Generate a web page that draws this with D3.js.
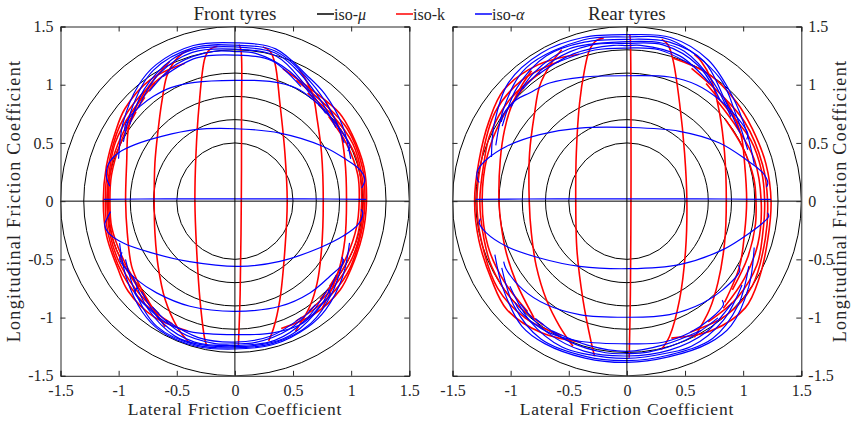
<!DOCTYPE html>
<html>
<head>
<meta charset="utf-8">
<script src="https://cdn.jsdelivr.net/npm/d3@7"></script>
<style>
  body { margin: 0; background: #fff; }
  svg text { font-family: "Liberation Serif", "Times New Roman", serif; fill: #262626; }
</style>
</head>
<body>
<svg id="chart" width="852" height="423"></svg>
<script>
// ---- axis values ----
const tickValues = [-1.5, -1, -0.5, 0, 0.5, 1, 1.5];
const tickLabels = ["-1.5", "-1", "-0.5", "0", "0.5", "1", "1.5"];
const isoMuRadii = [0.5, 0.7, 0.9, 1.1, 1.3, 1.5];
const panelTitles = ["Front tyres", "Rear tyres"];
const legendLabels = ["iso-", "iso-k", "iso-"];

// ---- front tyres: iso-alpha curves as [lateral, longitudinal] ----
const frontAlphaXY = [
  [[-1.13,0.015],[-0.6,0.02],[0,0.02],[0.6,0.02],[1.13,0.015]],
  [[-1.075,0.127],[-1.103,0.20],[-1.103,0.27],[-1.075,0.342],[-1.003,0.414],[-0.86,0.485],[-0.63,0.556],[-0.344,0.614],[0,0.622],[0.387,0.585],[0.76,0.47],[0.96,0.356],[1.075,0.27],[1.118,0.185],[1.09,0.113]],
  [[-0.95,0.60],[-0.94,0.66],[-0.89,0.74],[-0.817,0.814],[-0.70,0.90],[-0.55,0.975],[-0.344,1.02],[0,1.037],[0.30,1.028],[0.53,0.97],[0.673,0.871],[0.817,0.728],[0.93,0.58],[0.99,0.47],[0.97,0.43]],
  [[-1.07,-0.09],[-1.10,-0.15],[-1.12,-0.20],[-1.09,-0.27],[-0.96,-0.36],[-0.73,-0.44],[-0.39,-0.52],[0.04,-0.56],[0.387,-0.517],[0.731,-0.40],[0.931,-0.30],[1.06,-0.20],[1.10,-0.10],[1.085,-0.07]],
  [[-0.97,-0.44],[-0.99,-0.50],[-0.93,-0.59],[-0.845,-0.674],[-0.673,-0.788],[-0.387,-0.903],[0,-0.946],[0.387,-0.903],[0.645,-0.788],[0.817,-0.645],[0.931,-0.53],[0.92,-0.48]],
  [[-0.84,-0.74],[-0.86,-0.79],[-0.731,-0.931],[-0.587,-1.046],[-0.387,-1.12],[0,-1.146],[0.33,-1.131],[0.587,-1.046],[0.731,-0.903],[0.82,-0.80],[0.80,-0.76]]
];
// front iso-alpha curves in the saturated band: [force direction (deg), friction magnitude]
const frontAlphaPolar = [
  [[20,1.06],[35,1.13],[50,1.202],[60,1.244],[75,1.354],[90,1.36],[105,1.384],[120,1.354],[130,1.294],[145,1.174],[160,1.065]],
  [[28,1.065],[43,1.131],[58,1.216],[75,1.335],[90,1.34],[105,1.365],[122,1.325],[137,1.20],[152,1.086]],
  [[36,1.074],[51,1.146],[66,1.257],[75,1.32],[90,1.325],[105,1.35],[114,1.332],[129,1.238],[144,1.118]],
  [[44,1.086],[59,1.168],[74,1.295],[90,1.305],[106,1.329],[121,1.272],[136,1.155]],
  [[52,1.109],[67,1.21],[82,1.282],[90,1.285],[98,1.299],[113,1.28],[128,1.196]],
  [[60,1.135],[75,1.246],[90,1.255],[105,1.274],[120,1.235]],
  [[200,1.056],[215,1.141],[230,1.24],[240,1.285],[255,1.29],[270,1.27],[285,1.275],[300,1.25],[310,1.215],[325,1.131],[340,1.049]],
  [[208,1.066],[223,1.164],[238,1.268],[255,1.28],[270,1.26],[285,1.265],[302,1.235],[317,1.147],[332,1.058]],
  [[216,1.088],[231,1.189],[246,1.269],[255,1.269],[270,1.25],[285,1.255],[294,1.242],[309,1.165],[324,1.078]],
  [[224,1.118],[239,1.216],[254,1.259],[270,1.24],[286,1.244],[301,1.186],[316,1.101]],
  [[232,1.152],[247,1.219],[262,1.235],[270,1.225],[278,1.227],[293,1.195],[308,1.127]],
  [[240,1.182],[255,1.213],[270,1.21],[285,1.199],[300,1.15]]
];
// front iso-k curves, [lateral, longitudinal]
const frontKXY = [
  [[0.03,-1.245],[0.045,-0.8],[0.055,0],[0.057,0.8],[0.052,1.3],[0.035,1.345]],
  [[-0.24,-1.245],[-0.258,-1.19],[-0.30,-0.85],[-0.33,-0.4],[-0.344,0],[-0.335,0.4],[-0.31,0.8],[-0.258,1.229],[-0.22,1.30],[-0.15,1.33]],
  [[-0.38,-1.22],[-0.415,-1.19],[-0.50,-1.075],[-0.60,-0.845],[-0.66,-0.56],[-0.688,-0.27],[-0.694,0],[-0.688,0.328],[-0.66,0.614],[-0.63,0.843],[-0.587,1.071],[-0.53,1.186],[-0.45,1.27],[-0.38,1.30]],
  [[-0.60,-1.08],[-0.70,-0.93],[-0.817,-0.73],[-0.888,-0.56],[-0.926,-0.27],[-0.94,0],[-0.931,0.328],[-0.917,0.614],[-0.874,0.757],[-0.78,0.93],[-0.66,1.09],[-0.56,1.20]],
  [[0.29,-1.20],[0.33,-1.10],[0.387,-0.845],[0.43,-0.416],[0.45,0],[0.43,0.414],[0.387,0.843],[0.344,1.186],[0.30,1.29],[0.24,1.325]],
  [[0.52,-1.12],[0.645,-0.903],[0.708,-0.70],[0.745,-0.416],[0.76,0],[0.745,0.414],[0.708,0.70],[0.673,0.90],[0.60,1.06],[0.55,1.13]],
  [[0.75,-0.92],[0.84,-0.74],[0.903,-0.56],[0.946,-0.33],[0.96,0],[0.946,0.356],[0.903,0.614],[0.83,0.76],[0.78,0.86]]
];
// front iso-k curves in the saturated band: [direction (deg), magnitude]
const frontKPolar = [
  [[250,1.187],[235,1.214],[220,1.2],[210,1.162],[195,1.143],[180,1.132],[165,1.145],[150,1.187],[140,1.235],[125,1.272],[110,1.26]],
  [[243,1.184],[228,1.174],[213,1.152],[195,1.126],[180,1.115],[165,1.128],[147,1.182],[132,1.218],[117,1.251]],
  [[236,1.167],[221,1.14],[206,1.123],[195,1.111],[180,1.10],[165,1.113],[154,1.145],[139,1.173],[124,1.224]],
  [[229,1.138],[214,1.103],[199,1.101],[180,1.087],[161,1.109],[146,1.133],[131,1.181]],
  [[222,1.112],[207,1.082],[192,1.083],[180,1.075],[168,1.085],[153,1.103],[138,1.145]],
  [[-70,1.164],[-55,1.186],[-40,1.183],[-30,1.155],[-15,1.135],[0,1.132],[15,1.148],[30,1.16],[40,1.175],[55,1.162],[70,1.21]],
  [[-63,1.156],[-48,1.154],[-33,1.149],[-15,1.121],[0,1.118],[15,1.134],[33,1.149],[48,1.135],[63,1.164]],
  [[-56,1.139],[-41,1.124],[-26,1.121],[-13,1.11],[0,1.104],[13,1.115],[26,1.128],[41,1.116],[56,1.118]],
  [[-49,1.116],[-34,1.098],[-19,1.098],[0,1.09],[19,1.108],[34,1.096],[49,1.097]],
  [[-42,1.095],[-27,1.073],[-12,1.07],[0,1.069],[12,1.081],[27,1.079],[42,1.086]]
];

// ---- rear tyres ----
const rearAlphaXY = [
  [[-1.30,0.015],[-0.6,0.02],[0,0.02],[0.6,0.02],[1.24,0.015]],
  [[-1.27,0.16],[-1.29,0.20],[-1.281,0.27],[-1.209,0.356],[-1.037,0.47],[-0.75,0.571],[-0.407,0.628],[0.02,0.633],[0.453,0.60],[0.797,0.50],[1.027,0.356],[1.17,0.242],[1.212,0.156],[1.20,0.12]],
  [[-1.08,0.68],[-1.06,0.75],[-0.951,0.871],[-0.837,0.929],[-0.665,1.015],[-0.378,1.066],[0.02,1.077],[0.367,1.066],[0.597,1.0],[0.797,0.871],[0.94,0.729],[1.04,0.58],[1.03,0.53]],
  [[-1.26,-0.15],[-1.27,-0.187],[-1.209,-0.273],[-1.037,-0.388],[-0.75,-0.488],[-0.407,-0.56],[0.02,-0.58],[0.453,-0.545],[0.826,-0.416],[1.055,-0.273],[1.184,-0.173],[1.22,-0.13],[1.21,-0.10]],
  [[-1.06,-0.52],[-1.04,-0.58],[-0.894,-0.76],[-0.693,-0.888],[-0.407,-0.974],[0.02,-0.997],[0.367,-0.974],[0.654,-0.874],[0.826,-0.76],[0.97,-0.60],[0.96,-0.55]],
  [[-0.96,-0.87],[-0.93,-0.93],[-0.808,-1.046],[-0.665,-1.131],[-0.407,-1.203],[0.02,-1.225],[0.31,-1.212],[0.539,-1.131],[0.711,-1.017],[0.83,-0.89],[0.82,-0.85]]
];
const rearAlphaPolar = [
  [[16,1.14],[30,1.189],[45,1.28],[60,1.40],[75,1.455],[90,1.43],[105,1.455],[120,1.47],[135,1.44],[150,1.318],[162,1.225]],
  [[23,1.129],[38,1.194],[53,1.326],[75,1.435],[90,1.41],[105,1.435],[127,1.436],[142,1.334],[157,1.225]],
  [[31,1.135],[46,1.212],[61,1.371],[75,1.414],[90,1.39],[105,1.414],[119,1.428],[134,1.358],[149,1.251]],
  [[39,1.151],[54,1.263],[69,1.378],[78,1.391],[90,1.37],[111,1.40],[126,1.362],[141,1.283]],
  [[47,1.179],[62,1.315],[77,1.377],[90,1.355],[103,1.376],[118,1.364],[133,1.315]],
  [[55,1.238],[70,1.328],[85,1.343],[90,1.335],[95,1.343],[110,1.346],[125,1.329]],
  [[63,1.292],[78,1.329],[90,1.315],[102,1.327],[117,1.335]],
  [[202,1.225],[215,1.302],[230,1.404],[240,1.413],[255,1.395],[270,1.385],[285,1.385],[300,1.408],[310,1.395],[325,1.28],[340,1.165]],
  [[208,1.219],[223,1.325],[238,1.396],[255,1.38],[270,1.37],[285,1.37],[302,1.391],[317,1.309],[332,1.188]],
  [[216,1.244],[231,1.325],[246,1.372],[255,1.36],[270,1.35],[285,1.35],[294,1.365],[309,1.317],[324,1.224]],
  [[224,1.272],[239,1.32],[254,1.34],[270,1.33],[286,1.331],[301,1.316],[316,1.258]],
  [[232,1.279],[247,1.304],[262,1.315],[270,1.31],[278,1.31],[293,1.296],[308,1.272]],
  [[240,1.286],[255,1.283],[270,1.29],[285,1.274],[300,1.281]]
];
const rearKXY = [
  [[0.02,-1.345],[0.03,-0.8],[0.035,0],[0.035,0.8],[0.03,1.38],[0.025,1.43]],
  [[-0.278,-1.332],[-0.306,-1.217],[-0.378,-0.845],[-0.43,-0.416],[-0.44,0],[-0.435,0.414],[-0.407,0.843],[-0.364,1.129],[-0.321,1.30],[-0.26,1.38],[-0.2,1.40]],
  [[-0.464,-1.246],[-0.579,-1.075],[-0.693,-0.845],[-0.779,-0.56],[-0.822,-0.273],[-0.84,0],[-0.837,0.414],[-0.794,0.757],[-0.751,0.987],[-0.66,1.17],[-0.56,1.30]],
  [[-0.80,-1.0],[-0.951,-0.70],[-1.037,-0.445],[-1.08,-0.216],[-1.10,0],[-1.089,0.356],[-1.052,0.614],[-0.994,0.814],[-0.90,1.0],[-0.82,1.12]],
  [[0.296,-1.275],[0.367,-1.16],[0.453,-0.845],[0.505,-0.416],[0.516,0],[0.496,0.414],[0.453,0.843],[0.396,1.215],[0.353,1.343],[0.30,1.39]],
  [[0.58,-1.17],[0.711,-0.931],[0.783,-0.70],[0.84,-0.359],[0.855,0],[0.84,0.414],[0.797,0.757],[0.726,1.043],[0.64,1.2],[0.58,1.26]],
  [[0.84,-0.87],[0.969,-0.56],[1.012,-0.273],[1.03,0],[1.012,0.328],[0.984,0.557],[0.90,0.78],[0.84,0.88]]
];
const rearKPolar = [
  [[252,1.274],[237,1.348],[222,1.39],[210,1.345],[195,1.317],[180,1.31],[165,1.318],[150,1.37],[138,1.426],[123,1.398],[108,1.327]],
  [[244,1.284],[229,1.331],[214,1.34],[195,1.297],[180,1.29],[165,1.298],[146,1.367],[131,1.376],[116,1.334]],
  [[236,1.283],[221,1.301],[206,1.292],[195,1.272],[180,1.265],[165,1.273],[154,1.309],[139,1.333],[124,1.33]],
  [[228,1.277],[213,1.261],[198,1.256],[180,1.245],[162,1.262],[147,1.287],[132,1.319]],
  [[-72,1.237],[-57,1.328],[-42,1.37],[-30,1.315],[-15,1.255],[0,1.24],[15,1.238],[30,1.245],[42,1.27],[57,1.299],[72,1.291]],
  [[-64,1.25],[-49,1.301],[-34,1.301],[-15,1.233],[0,1.21],[15,1.208],[34,1.22],[49,1.222],[64,1.268]],
  [[-56,1.25],[-41,1.26],[-26,1.245],[-13,1.2],[0,1.185],[13,1.187],[26,1.188],[41,1.169],[56,1.218]],
  [[-48,1.239],[-33,1.208],[-18,1.185],[0,1.155],[18,1.153],[33,1.138],[48,1.16]],
  [[-40,1.184],[-25,1.146],[-10,1.123],[0,1.11],[10,1.109],[25,1.097],[40,1.10]]
];

// ---- drawing ----
const svg = d3.select("#chart");
const AXIS = "#262626";
const RED = "#ff0000", BLUE = "#0000ff";
const SERIF = '"Liberation Serif", "Times New Roman", serif';

// direction (deg) + magnitude -> [lateral, longitudinal]
const fromPolar = ([deg, mu]) => [mu * Math.cos(deg * Math.PI / 180), mu * Math.sin(deg * Math.PI / 180)];

const panels = [
  { key: "front", title: panelTitles[0], range: [60.5, 409.3], side: "left",
    alphaXY: frontAlphaXY, alphaPolar: frontAlphaPolar, kXY: frontKXY, kPolar: frontKPolar },
  { key: "rear", title: panelTitles[1], range: [452.5, 801.3], side: "right",
    alphaXY: rearAlphaXY, alphaPolar: rearAlphaPolar, kXY: rearKXY, kPolar: rearKPolar }
];
const yRange = [375.8, 26.5];

panels.forEach(p => {
  const x = d3.scaleLinear().domain([-1.5, 1.5]).range(p.range);
  const y = d3.scaleLinear().domain([-1.5, 1.5]).range(yRange);
  const g = svg.append("g");
  const clipId = "clip-" + p.key;
  g.append("clipPath").attr("id", clipId).append("rect")
    .attr("x", p.range[0]).attr("y", yRange[1])
    .attr("width", p.range[1] - p.range[0]).attr("height", yRange[0] - yRange[1]);
  const plot = g.append("g").attr("clip-path", `url(#${clipId})`);

  // iso-mu circles
  plot.selectAll("ellipse").data(isoMuRadii).join("ellipse")
    .attr("cx", x(0)).attr("cy", y(0))
    .attr("rx", d => x(d) - x(0)).attr("ry", d => y(0) - y(d))
    .attr("fill", "none").attr("stroke", "#000").attr("stroke-width", 1);

  const line = d3.line().x(d => x(d[0])).y(d => y(d[1])).curve(d3.curveCatmullRom.alpha(0.5));

  const kCurves = p.kXY.concat(p.kPolar.map(c => c.map(fromPolar)));
  const alphaCurves = p.alphaXY.concat(p.alphaPolar.map(c => c.map(fromPolar)));

  plot.append("g").selectAll("path").data(kCurves).join("path")
    .attr("d", line).attr("fill", "none").attr("stroke", RED).attr("stroke-width", 1.6);
  plot.append("g").selectAll("path").data(alphaCurves).join("path")
    .attr("d", line).attr("fill", "none").attr("stroke", BLUE).attr("stroke-width", 1.2);

  // zero lines
  plot.append("line").attr("x1", x(-1.5)).attr("x2", x(1.5)).attr("y1", y(0)).attr("y2", y(0))
    .attr("stroke", "#000").attr("stroke-width", 1);
  plot.append("line").attr("x1", x(0)).attr("x2", x(0)).attr("y1", y(-1.5)).attr("y2", y(1.5))
    .attr("stroke", "#000").attr("stroke-width", 1);

  // axes with inward ticks on all four sides
  const fmt = d => tickLabels[tickValues.indexOf(d)];
  const styleAxis = sel => {
    sel.attr("font-family", SERIF).attr("font-size", 16);
    sel.select(".domain").attr("stroke", AXIS);
    sel.selectAll(".tick line").attr("stroke", AXIS);
    sel.selectAll("text").attr("fill", AXIS);
  };
  g.append("g").attr("transform", `translate(0,${yRange[0]})`)
    .call(d3.axisBottom(x).tickValues(tickValues).tickSize(-5).tickPadding(9).tickFormat(fmt))
    .call(styleAxis);
  g.append("g").attr("transform", `translate(0,${yRange[1]})`)
    .call(d3.axisTop(x).tickValues(tickValues).tickSize(-5).tickFormat(""))
    .call(styleAxis);
  const labelled = p.side === "left" ? d3.axisLeft(y) : d3.axisRight(y);
  const plain = p.side === "left" ? d3.axisRight(y) : d3.axisLeft(y);
  const lx = p.side === "left" ? p.range[0] : p.range[1];
  const px = p.side === "left" ? p.range[1] : p.range[0];
  g.append("g").attr("transform", `translate(${lx},0)`)
    .call(labelled.tickValues(tickValues).tickSize(-5).tickPadding(7).tickFormat(fmt))
    .call(styleAxis);
  g.append("g").attr("transform", `translate(${px},0)`)
    .call(plain.tickValues(tickValues).tickSize(-5).tickFormat(""))
    .call(styleAxis);

  const cx = (p.range[0] + p.range[1]) / 2;
  g.append("text").attr("x", cx).attr("y", 20).attr("text-anchor", "middle")
    .attr("font-family", SERIF).attr("font-size", 19).text(p.title);
  g.append("text").attr("x", cx).attr("y", 415).attr("text-anchor", "middle")
    .attr("font-family", SERIF).attr("font-size", 17.5).attr("letter-spacing", 0.8)
    .text("Lateral Friction Coefficient");
  const yl = p.side === "left" ? 20 : 846;
  g.append("text").attr("transform", `translate(${yl},201) rotate(-90)`).attr("text-anchor", "middle")
    .attr("font-family", SERIF).attr("font-size", 18).attr("letter-spacing", 1.3)
    .text("Longitudinal Friction Coefficient");
});

// legend
const legendItems = [
  { color: "#000", x: 317, label: legendLabels[0], sym: "\u03bc" },
  { color: RED, x: 396, label: legendLabels[1], sym: "" },
  { color: BLUE, x: 475, label: legendLabels[2], sym: "\u03b1" }
];
const lg = svg.append("g");
legendItems.forEach(it => {
  lg.append("line").attr("x1", it.x).attr("x2", it.x + 17).attr("y1", 14).attr("y2", 14)
    .attr("stroke", it.color).attr("stroke-width", 1.5);
  const t = lg.append("text").attr("x", it.x + 17).attr("y", 20)
    .attr("font-family", SERIF).attr("font-size", 16);
  t.append("tspan").text(it.label);
  if (it.sym) t.append("tspan").attr("font-style", "italic").text(it.sym);
});
</script>
</body>
</html>
